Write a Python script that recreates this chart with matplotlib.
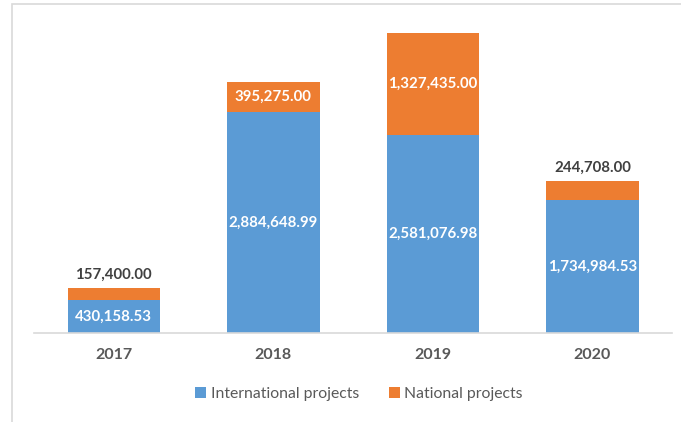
import matplotlib.pyplot as plt
from matplotlib.patches import Rectangle

years = ["2017", "2018", "2019", "2020"]
international = [430158.53, 2884648.99, 2581076.98, 1734984.53]
national = [157400.00, 395275.00, 1327435.00, 244708.00]
# small segments get their label above the bar instead of inside
national_outside = [True, False, False, True]

BLUE = "#5B9BD5"
ORANGE = "#ED7D31"
GREY = "#595959"

plt.rcParams["font.family"] = ["Lato", "DejaVu Sans"]

fig = plt.figure(figsize=(6.81, 4.22), dpi=100)
ax = fig.add_axes([0.05, 0.211, 0.937, 0.763])

# chart frame
fig.patches.append(Rectangle((12 / 681, -0.1), 1.2, 1.1 - 4 / 422, transform=fig.transFigure,
                             fill=False, edgecolor="#D9D9D9", linewidth=1.2, zorder=0))

x = range(len(years))
b1 = ax.bar(x, international, width=0.58, color=BLUE, label="International projects")
b2 = ax.bar(x, national, width=0.58, bottom=international, color=ORANGE, label="National projects")

for i in x:
    ax.text(i, international[i] / 2, f"{international[i]:,.2f}", ha="center", va="center",
            color="white", fontsize=10.8, fontweight="bold")
    if national_outside[i]:
        ax.text(i, international[i] + national[i] + 80000, f"{national[i]:,.2f}",
                ha="center", va="bottom", color="#404040", fontsize=10.8, fontweight="bold")
    else:
        ax.text(i, international[i] + national[i] / 2, f"{national[i]:,.2f}", ha="center",
                va="center", color="white", fontsize=10.8, fontweight="bold")

ax.set_xlim(-0.5, 3.5)
ax.set_ylim(0, 4.2e6)
ax.set_xticks(list(x))
ax.set_xticklabels(years, fontsize=11.5, fontweight="bold", color=GREY)
ax.tick_params(axis="x", length=0, pad=11)
ax.set_yticks([])
for side in ["top", "right", "left"]:
    ax.spines[side].set_visible(False)
ax.spines["bottom"].set_color("#D9D9D9")
ax.spines["bottom"].set_linewidth(1.2)

fig.legend(handles=[b1, b2], loc="center", bbox_to_anchor=(0.527, 1 - 394 / 422), ncol=2,
           frameon=False, fontsize=11.3, labelcolor=GREY, handlelength=0.7, handleheight=0.7,
           handletextpad=0.3, columnspacing=1.9)

fig.savefig("out.png", dpi=100)
